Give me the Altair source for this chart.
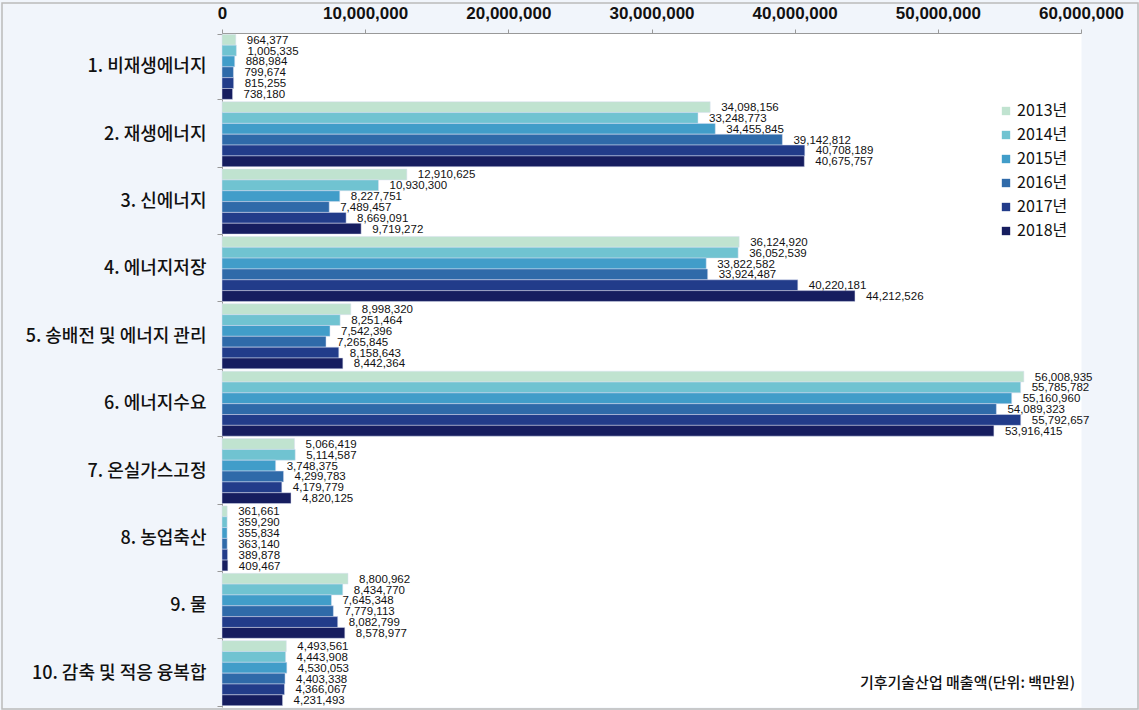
import altair as alt
import pandas as pd

categories = ["1. 비재생에너지", "2. 재생에너지", "3. 신에너지", "4. 에너지저장",
              "5. 송배전 및 에너지 관리", "6. 에너지수요", "7. 온실가스고정",
              "8. 농업축산", "9. 물", "10. 감축 및 적응 융복합"]
years = ["2013년", "2014년", "2015년", "2016년", "2017년", "2018년"]
colors = ["#c0e3d0", "#70c3d1", "#419dc9", "#2f6aa9", "#223c8a", "#161d5f"]

v2013 = [964377, 34098156, 12910625, 36124920, 8998320, 56008935, 5066419, 361661, 8800962, 4493561]
v2014 = [1005335, 33248773, 10930300, 36052539, 8251464, 55785782, 5114587, 359290, 8434770, 4443908]
v2015 = [888984, 34455845, 8227751, 33822582, 7542396, 55160960, 3748375, 355834, 7645348, 4530053]
v2016 = [799674, 39142812, 7489457, 33924487, 7265845, 54089323, 4299783, 363140, 7779113, 4403338]
v2017 = [815255, 40708189, 8669091, 40220181, 8158643, 55792657, 4179779, 389878, 8082799, 4366067]
v2018 = [738180, 40675757, 9719272, 44212526, 8442364, 53916415, 4820125, 409467, 8578977, 4231493]

x_ticks = [0, 10000000, 20000000, 30000000, 40000000, 50000000, 60000000]
note = "기후기술산업 매출액(단위: 백만원)"

rows = []
for yr, vals in zip(years, [v2013, v2014, v2015, v2016, v2017, v2018]):
    for c, v in zip(categories, vals):
        rows.append({"category": c, "year": yr, "value": v})
df = pd.DataFrame(rows)

KR = "Noto Sans CJK KR"
NUM = "Liberation Sans"

W, H = 859, 674

y_enc = alt.Y("category:N", sort=categories,
              scale=alt.Scale(paddingInner=0.035, paddingOuter=0.02),
              axis=alt.Axis(title=None, tickBand="extent", tickSize=5, tickColor="#999999",
                            domainColor="#999999", labelFont=KR, labelFontSize=18,
                            labelFontWeight=500, labelColor="#111111", labelPadding=11,
                            labelLimit=400))
x_enc = alt.X("value:Q", scale=alt.Scale(domain=[0, 60000000], nice=False),
              axis=alt.Axis(orient="top", title=None, values=x_ticks, format=",.0f",
                            grid=False, tickSize=4, tickColor="#999999", domainColor="#999999",
                            labelFont=NUM, labelFontSize=17, labelFontWeight="bold",
                            labelColor="#111111", labelPadding=7, labelFlush=False,
                            labelOverlap=False))
yoff = alt.YOffset("year:N", sort=years)

base = alt.Chart(df)

bars = base.mark_bar(stroke="#d8dff0", strokeWidth=0.5).encode(
    y=y_enc, x=x_enc, yOffset=yoff,
    color=alt.Color("year:N", sort=years,
                    scale=alt.Scale(domain=years, range=colors),
                    legend=alt.Legend(title=None, orient="none", legendX=776, legendY=70,
                                      symbolType="square", symbolSize=70, symbolStrokeWidth=0,
                                      labelFont=KR, labelFontSize=16, labelColor="#111111",
                                      rowPadding=8, labelOffset=3))
)

labels = base.mark_text(align="left", baseline="middle", dx=11, dy=1, font=NUM,
                        fontSize=11.5, color="#111111").encode(
    y=y_enc, x=x_enc, yOffset=yoff,
    text=alt.Text("value:Q", format=",")
)

note_mark = alt.Chart(pd.DataFrame({"t": [note]})).mark_text(
    align="right", baseline="middle", font=KR, fontSize=15, fontWeight=500, color="#111111"
).encode(x=alt.value(853), y=alt.value(650), text="t:N")

frame = alt.Chart(pd.DataFrame({"a": [0]})).mark_rect(
    fill="transparent", stroke="#bbbbbb", strokeWidth=1.5
).encode(x=alt.value(-220), x2=alt.value(916), y=alt.value(-30), y2=alt.value(676))

chart = alt.layer(bars, labels, note_mark, frame).properties(
    width=W, height=H,
    background="#f1f5fb",
    padding={"left": 222, "top": 33, "right": 58, "bottom": 3},
    autosize=alt.AutoSizeParams(type="none")
).configure_view(fill="white", stroke="transparent")

chart.save("out.html", embed_options={"renderer": "svg", "actions": False})
